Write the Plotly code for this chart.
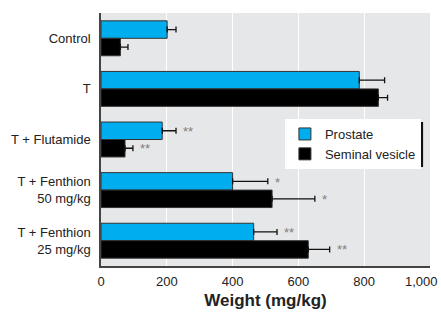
import plotly.graph_objects as go

categories = ["Control", "T", "T + Flutamide", "T + Fenthion<br>50 mg/kg", "T + Fenthion<br>25 mg/kg"]
prostate = [201, 785, 186, 400, 464]
prostate_err = [27, 77, 42, 107, 71]
seminal = [59, 843, 73, 520, 630]
seminal_err = [23, 28, 24, 130, 65]
prostate_sig = ["", "", "**", "*", "**"]
seminal_sig = ["", "", "**", "*", "**"]
x_ticks = [0, 200, 400, 600, 800, 1000]
x_ticklabels = ["0", "200", "400", "600", "800", "1,000"]

FONT = "Liberation Sans, Arial, sans-serif"
BLUE = "#00aeef"
TXT = "#222222"

fig = go.Figure()
fig.add_trace(go.Bar(
    name="Prostate", y=categories, x=prostate, orientation="h",
    marker=dict(color=BLUE, line=dict(color="#333333", width=1)),
    error_x=dict(type="data", array=prostate_err, arrayminus=[0]*len(prostate_err),
                 symmetric=False, color="#111111", thickness=1.3, width=3),
))
fig.add_trace(go.Bar(
    name="Seminal vesicle", y=categories, x=seminal, orientation="h",
    marker=dict(color="#000000", line=dict(color="#333333", width=1)),
    error_x=dict(type="data", array=seminal_err, arrayminus=[0]*len(seminal_err),
                 symmetric=False, color="#111111", thickness=1.3, width=3),
))

annotations = []
for cat, v, e, s in zip(categories, prostate, prostate_err, prostate_sig):
    if s:
        annotations.append(dict(x=v + e, y=cat, text=s, showarrow=False, xanchor="left",
                                xshift=5, yshift=8, font=dict(family=FONT, size=13, color="#808080")))
for cat, v, e, s in zip(categories, seminal, seminal_err, seminal_sig):
    if s:
        annotations.append(dict(x=v + e, y=cat, text=s, showarrow=False, xanchor="left",
                                xshift=5, yshift=-9, font=dict(family=FONT, size=13, color="#808080")))

# last tick label is drawn pulled inside the figure, as in the original
tick_text_axis = x_ticklabels[:-1] + [""]
annotations.append(dict(x=x_ticks[-1], y=0, xref="x", yref="paper", yanchor="top",
                        xanchor="right", xshift=10, yshift=-6, showarrow=False,
                        text=x_ticklabels[-1], font=dict(family=FONT, size=13, color=TXT)))

fig.update_layout(
    width=441, height=318,
    margin=dict(l=101, r=11, t=13, b=52, autoexpand=False),
    paper_bgcolor="white", plot_bgcolor="#e6e7e8",
    barmode="group", bargap=0.31, bargroupgap=0,
    font=dict(family=FONT, size=13, color=TXT),
    showlegend=True,
    legend=dict(x=0.559, y=0.581, xanchor="left", yanchor="top",
                bgcolor="white", borderwidth=0, traceorder="normal",
                font=dict(family=FONT, size=13, color=TXT),
                tracegroupgap=0, itemwidth=30),
    annotations=annotations,
    shapes=[dict(type="rect", xref="paper", yref="paper",
                 x0=0.568, x1=0.979, y0=0.391, y1=0.569,
                 fillcolor="#111111", line=dict(width=0), layer="above")],
    xaxis=dict(range=[0, 1000], tickvals=x_ticks, ticktext=tick_text_axis,
               showgrid=True, gridcolor="white", gridwidth=1.2,
               showline=True, linecolor="#444444", linewidth=1.5,
               ticks="", zeroline=False, automargin=False, ticklabelstandoff=3,
               tickfont=dict(family=FONT, size=13, color=TXT),
               title=dict(text="<b>Weight (mg/kg)</b>", font=dict(family=FONT, size=17, color=TXT),
                          standoff=6)),
    yaxis=dict(autorange="reversed", showgrid=False, automargin=False,
               showline=True, linecolor="#444444", linewidth=1.5, ticks="",
               tickfont=dict(family=FONT, size=13, color=TXT), ticklabelstandoff=6),
)

fig.write_html("out.html", post_script="document.body.style.margin='0';",
               config={"displayModeBar": False})
